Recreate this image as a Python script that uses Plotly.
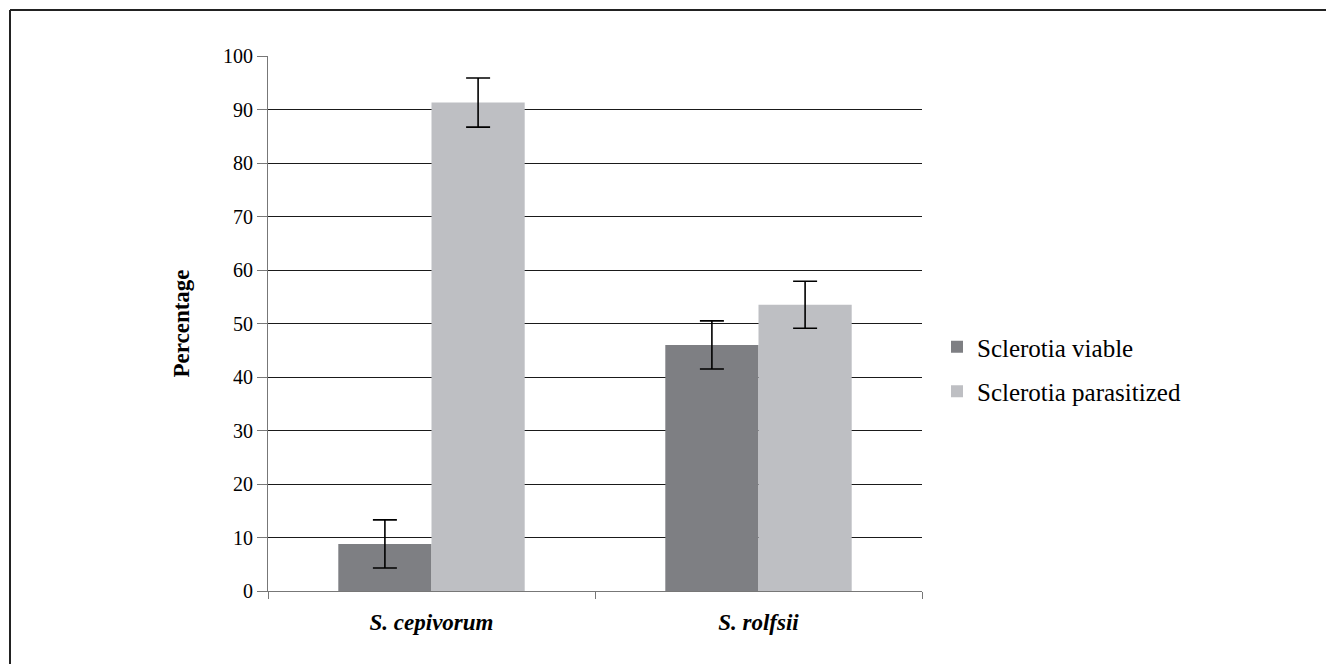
import plotly.graph_objects as go

categories = ["<i><b>S. cepivorum</b></i>", "<i><b>S. rolfsii</b></i>"]
viable = [8.8, 46.0]
viable_err = [4.5, 4.5]
parasitized = [91.3, 53.5]
parasitized_err = [4.6, 4.4]
yticks = [0, 10, 20, 30, 40, 50, 60, 70, 80, 90, 100]

# page body adds an 8px offset; compensate in the margins
OFF = 8
W, H = 1334, 664
pw, ph = 654, 535
L, T = 268 - OFF, 56 - OFF
R, B = W - L - pw, H - T - ph

font = "Liberation Serif"

fig = go.Figure()
fig.add_trace(go.Bar(
    x=categories, y=viable, name="Sclerotia viable",
    marker=dict(color="#7e7f83", line=dict(width=0)),
    error_y=dict(type="data", array=viable_err, visible=True,
                 color="black", thickness=1.6, width=12),
    legendgroup="a",
))
fig.add_trace(go.Bar(
    x=categories, y=parasitized, name="Sclerotia parasitized",
    marker=dict(color="#bebfc3", line=dict(width=0)),
    error_y=dict(type="data", array=parasitized_err, visible=True,
                 color="black", thickness=1.6, width=12),
    legendgroup="b",
))

# outer frame (partially cropped off the right and bottom of the picture)
fx0 = (10 - OFF - L) / pw
fy1 = (T + ph - (10 - OFF)) / ph
fig.add_shape(type="line", xref="paper", yref="paper",
              x0=fx0, x1=3, y0=fy1, y1=fy1, line=dict(color="#222", width=2))
fig.add_shape(type="line", xref="paper", yref="paper",
              x0=fx0, x1=fx0, y0=fy1, y1=-3, line=dict(color="#222", width=2))

leg_x = (937 - OFF - L) / pw
leg_y = (T + ph - (369 - OFF)) / ph

fig.update_layout(
    width=W, height=H,
    margin=dict(l=L, r=R, t=T, b=B, autoexpand=False),
    paper_bgcolor="white", plot_bgcolor="white",
    barmode="group", bargap=0.43, bargroupgap=0,
    font=dict(family=font, size=20, color="black"),
    showlegend=True,
    legend=dict(x=leg_x, y=leg_y, xanchor="left", yanchor="middle",
                font=dict(family=font, size=25, color="black"),
                traceorder="grouped", tracegroupgap=9,
                itemwidth=30, bgcolor="rgba(0,0,0,0)"),
    xaxis=dict(
        showline=True, linecolor="#777", linewidth=1.2,
        ticks="outside", ticklen=7, tickcolor="#777", tickwidth=1.2,
        tickson="boundaries", showgrid=False, ticklabelstandoff=10,
        tickfont=dict(family=font, size=23, color="black"),
    ),
    yaxis=dict(
        range=[0, 100], tickvals=yticks,
        showline=True, linecolor="#777", linewidth=1.2,
        ticks="outside", ticklen=10, tickcolor="#777", tickwidth=1.2,
        showgrid=True, gridcolor="#1a1a1a", gridwidth=1,
        zeroline=False, ticklabelstandoff=0,
        tickfont=dict(family=font, size=20, color="black"),
        title=dict(text="<b>Percentage</b>", standoff=26,
                   font=dict(family=font, size=23, color="black")),
    ),
)

fig.write_html("out.html")
